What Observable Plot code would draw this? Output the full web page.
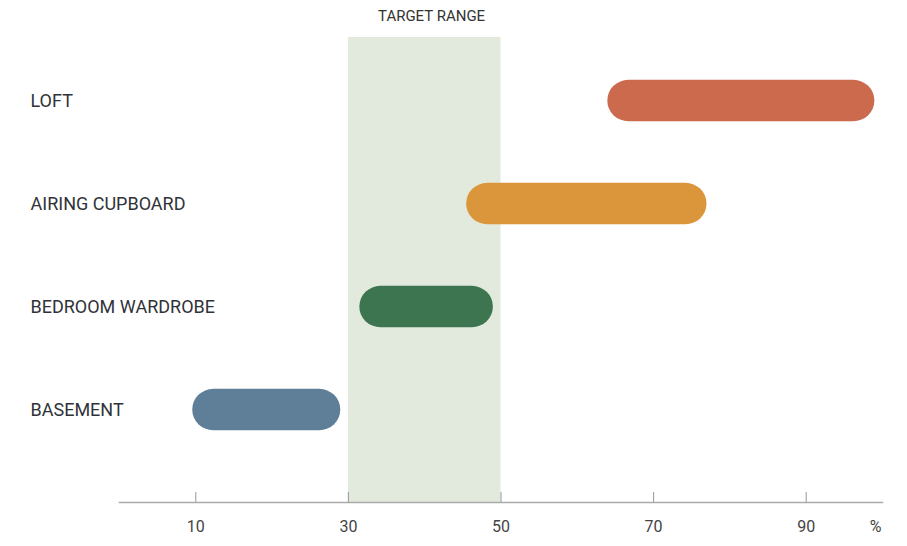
<!DOCTYPE html>
<html>
<head>
<meta charset="utf-8">
<script src="https://cdn.jsdelivr.net/npm/d3@7"></script>
<script src="https://cdn.jsdelivr.net/npm/@observablehq/plot@0.6"></script>
<style>
  html, body { margin: 0; padding: 0; background: #fff; }
  #chart svg { display: block; }
</style>
</head>
<body>
<div id="chart"></div>
<script>
const locations = ["LOFT", "AIRING CUPBOARD", "BEDROOM WARDROBE", "BASEMENT"];
const lowValues = [64, 45.5, 31.5, 9.6];
const highValues = [99, 77, 49, 29];
const colors = ["#cc6a4e", "#db953b", "#3c7550", "#5f7e98"];
const targetLow = 30;
const targetHigh = 50;
const tickValues = [10, 30, 50, 70, 90];

const rows = locations.map((name, i) => ({name, low: lowValues[i], high: highValues[i], color: colors[i]}));

const chart = Plot.plot({
  width: 907,
  height: 546,
  marginTop: 37,
  marginBottom: 44,
  marginLeft: 119,
  marginRight: 25,
  style: {fontFamily: "Roboto, sans-serif", background: "#fff"},
  x: {domain: [0, 100], axis: null},
  y: {domain: locations, range: [47, 462], padding: 0, axis: null},
  marks: [
    Plot.rectX([{x1: targetLow, x2: targetHigh}], {x1: "x1", x2: "x2", fill: "#e2eadd"}),
    Plot.text(["TARGET RANGE"], {
      x: [(targetLow + targetHigh) / 2 + 0.9], frameAnchor: "top", lineAnchor: "middle", dy: -21,
      fontSize: 15, fill: "#333", style: "letter-spacing: 2px"
    }),
    Plot.barX(rows, {
      y: "name", x1: "low", x2: "high", fill: "color",
      insetTop: 30.8, insetBottom: 30.8, rx: 21
    }),
    Plot.text(rows, {
      y: "name", text: "name", frameAnchor: "left", dx: -89, textAnchor: "start",
      fontSize: 18, fill: "#2f3339", style: "letter-spacing: 0.3px"
    }),
    Plot.frame({anchor: "bottom", stroke: "#aaaaaa", strokeWidth: 1.5}),
    Plot.ruleX(tickValues, {x: d => d, insetTop: 455, stroke: "#999", strokeWidth: 1}),
    Plot.text(tickValues, {
      x: d => d, text: d => String(d), frameAnchor: "bottom", lineAnchor: "middle", dy: 24,
      fontSize: 16, fill: "#444"
    }),
    Plot.text(["%"], {frameAnchor: "bottom-right", lineAnchor: "middle", dx: -1, dy: 24, textAnchor: "end", fontSize: 16, fill: "#444"})
  ]
});
document.getElementById("chart").appendChild(chart);
</script>
</body>
</html>
